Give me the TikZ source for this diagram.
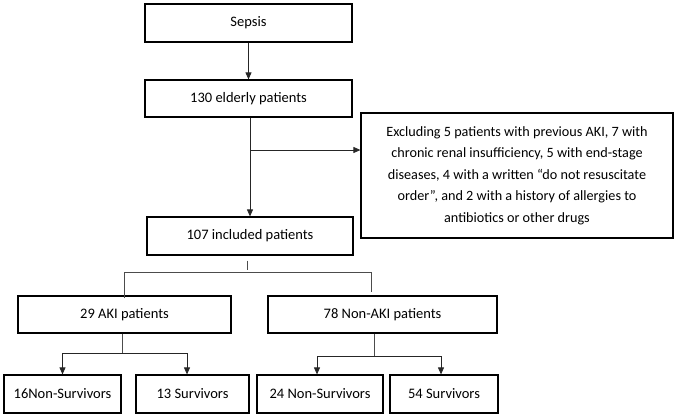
\documentclass[tikz,border=0pt]{standalone}
\usepackage{fontspec}
\setmainfont{Carlito}
\usepackage{tikz}
\usetikzlibrary{calc, positioning, arrows.meta}
\tikzset{
    flowbox/.style={rectangle, draw=black, line width=1.2pt, fill=white, align=center, inner sep=0pt, font=\fontsize{14.5}{17}\selectfont},
    excbox/.style={flowbox, font=\fontsize{14.2}{21.5}\selectfont},
    arrow/.style={-{Triangle[length=7pt, width=6pt]}, line width=0.8pt, draw=black!85},
    link/.style={line width=0.7pt, draw=black!70}
}

\begin{document}
\begin{tikzpicture}[x=1pt, y=-1pt]
    \useasboundingbox (0,0) rectangle (677,418);

    % Main column
    \node[flowbox, minimum width=207pt, minimum height=38pt] (sepsis) at (248.5,23) {Sepsis};
    \node[flowbox, minimum width=207pt, minimum height=37pt] (elderly) at (248.5,98.5) {130 elderly patients};
    \node[flowbox, minimum width=206pt, minimum height=38pt] (included) at (250,236) {107 included patients};

    % Exclusion box
    \node[excbox, minimum width=312pt, minimum height=125pt] (excluded) at (517,175.5) {Excluding 5 patients with previous AKI, 7 with\\chronic renal insufficiency, 5 with end-stage\\diseases, 4 with a written “do not resuscitate\\order”, and 2 with a history of allergies to\\antibiotics or other drugs};

    % Groups
    \node[flowbox, minimum width=213pt, minimum height=37pt] (aki) at (124.5,314.5) {29 AKI patients};
    \node[flowbox, minimum width=229pt, minimum height=37pt] (nonaki) at (382.5,314.5) {78 Non-AKI patients};

    % Outcomes
    \foreach \name/\cx/\w/\txt in {akiD/62.5/117/16Non-Survivors, akiS/192.5/113/13 Survivors, nonakiD/320/126/24 Non-Survivors, nonakiS/444/108/54 Survivors} {
        \node[flowbox, minimum width=\w pt, minimum height=38pt] (\name) at (\cx,394) {\txt};
    }

    % Connectors
    \draw[arrow] (sepsis) -- (elderly);
    \draw[arrow] (elderly.south -| included.north) -- (included.north);
    \coordinate (exit) at ($(elderly.south)!0.5!(included.north) + (2,-17)$);
    \draw[arrow] (exit) -- (exit -| excluded.west);

    % Split to the groups
    \coordinate (split) at ($(included.south) + (-3,17)$);
    \draw[link] ($(included.south) + (-3,5)$) -- ($(split) + (0,-3)$);
    \draw[link] ([yshift=-3pt]aki.north) |- (split) -| ($(nonaki.north) + (-11.5,-3)$);

    % Split to the outcomes
    \draw[link] ($(aki.south) + (-2.5,0)$) -- ++(0,20) coordinate (akiJ);
    \draw[arrow] (akiJ) -| (akiD.north);
    \draw[arrow] (akiJ) -| ($(akiS.north) + (-5.5,0)$);
    \draw[link] ($(nonaki.south) + (-8.5,0)$) -- ++(0,23) coordinate (nonakiJ);
    \draw[arrow] (nonakiJ) -| ($(nonakiD.north) + (-3,0)$);
    \draw[arrow] (nonakiJ) -| ($(nonakiS.north) + (-3,0)$);
\end{tikzpicture}
\end{document}
